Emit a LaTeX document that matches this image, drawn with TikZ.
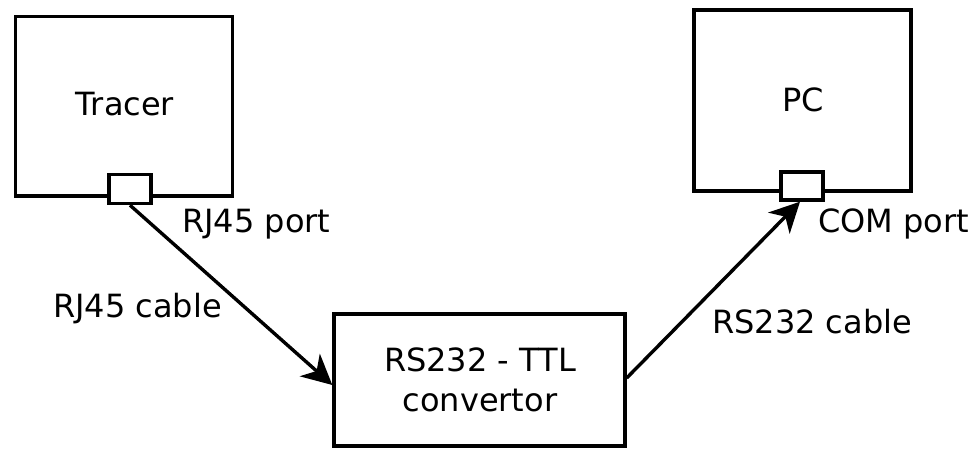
\documentclass[tikz,border=0pt]{standalone}
\usepackage{fontspec}
\setmainfont{DejaVu Sans}
\usetikzlibrary{arrows.meta}
\begin{document}
\begin{tikzpicture}[x=1pt,y=1pt,
  box/.style={draw=black,line width=3.4pt,fill=white,rectangle,inner sep=0pt},
  lbl/.style={inner sep=0pt,font=\fontsize{32}{37}\selectfont},
  cable/.style={line width=3.4pt,-{Stealth[length=30pt,width=30pt,inset=9pt]}}]
\useasboundingbox (0,0) rectangle (978,450);
\node[box,minimum width=217pt,minimum height=179.5pt] (tracer) at (124,343.75) {};
\node[box,minimum width=42pt,minimum height=29pt] (port1) at (130,261) {};
\node[box,minimum width=217pt,minimum height=181pt] (pc) at (802.5,349.5) {};
\node[box,minimum width=42pt,minimum height=28pt] (port2) at (802,264) {};
\node[box,minimum width=291pt,minimum height=132pt] (conv) at (479.5,70) {};
\node[lbl,anchor=base] (tracerlbl) at (125,334) {Tracer};
\node[lbl,anchor=base] (pclbl) at (803,338) {PC};
\node[lbl,anchor=base] (convlbl1) at (480,78) {RS232 - TTL};
\node[lbl,anchor=base] (convlbl2) at (480,38) {convertor};
\node[lbl,anchor=base west] (rj45port) at (182,217) {RJ45 port};
\node[lbl,anchor=base west] (rj45cable) at (53,132) {RJ45 cable};
\node[lbl,anchor=base west] (comport) at (818,217) {COM port};
\node[lbl,anchor=base west] (rs232cable) at (712,116) {RS232 cable};
\coordinate (a1end) at ([yshift=-5pt]conv.west);
\coordinate (a2start) at ([yshift=2pt]conv.east);
\draw[cable] (port1.south) -- (a1end);
\draw[cable] (a2start) -- ([xshift=-2pt]port2.south);
\end{tikzpicture}
\end{document}
